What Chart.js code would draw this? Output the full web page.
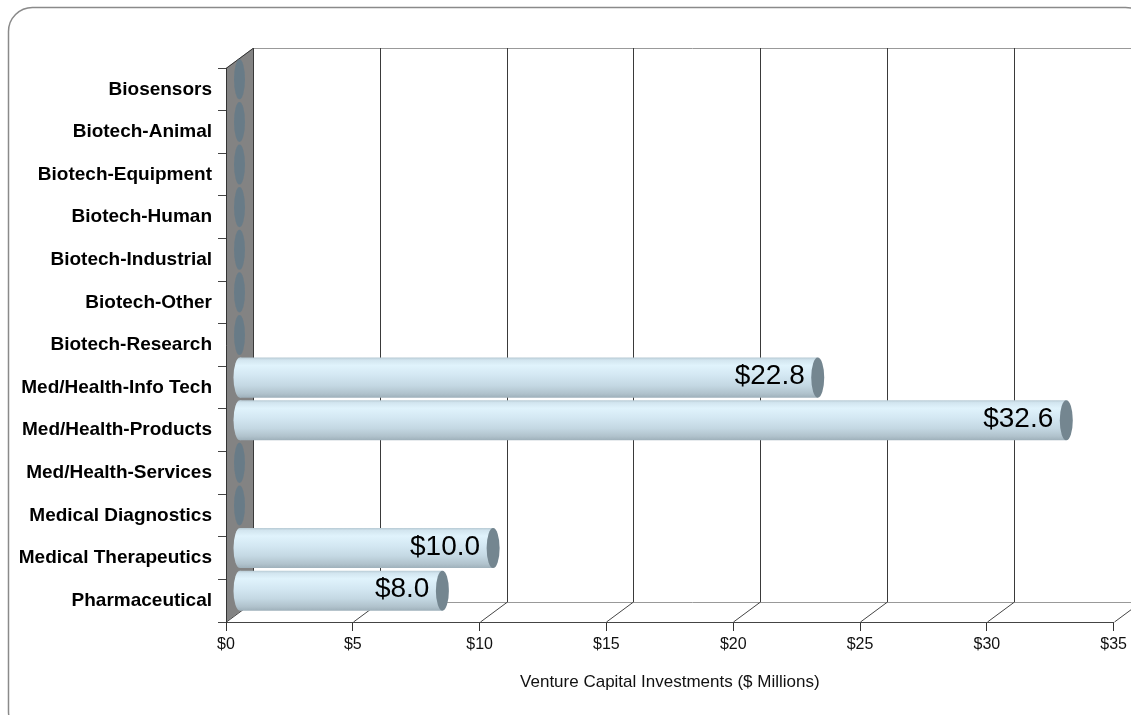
<!DOCTYPE html>
<html>
<head>
<meta charset="utf-8">
<script src="https://cdn.jsdelivr.net/npm/chart.js@4.4.1/dist/chart.umd.min.js"></script>
<style>
    html, body { margin: 0; padding: 0; background: #fff; }
    #wrap { width: 1131px; height: 715px; position: relative; }
</style>
</head>
<body>
<div id="wrap"><canvas id="barChart"></canvas></div>
<script>
const categories = [
    'Biosensors', 'Biotech-Animal', 'Biotech-Equipment', 'Biotech-Human',
    'Biotech-Industrial', 'Biotech-Other', 'Biotech-Research',
    'Med/Health-Info Tech', 'Med/Health-Products', 'Med/Health-Services',
    'Medical Diagnostics', 'Medical Therapeutics', 'Pharmaceutical'
];
const investments = [0, 0, 0, 0, 0, 0, 0, 22.8, 32.6, 0, 0, 10.0, 8.0];
const axisTitle = 'Venture Capital Investments ($ Millions)';
const xMax = 35;
const xStep = 5;

// 3D depth of the plot box (back wall offset from the front plane)
const DEPTH_X = 27;
const DEPTH_Y = -20;
const FONT = '"Liberation Sans", Arial, sans-serif';


function tubeGradient(ctx, cy, h) {
    const g = ctx.createLinearGradient(0, cy - h / 2, 0, cy + h / 2);
    g.addColorStop(0, '#b7cad4');
    g.addColorStop(0.06, '#d2e5ef');
    g.addColorStop(0.2, '#e0f3fc');
    g.addColorStop(0.45, '#d3e7f2');
    g.addColorStop(0.7, '#c4d8e3');
    g.addColorStop(0.9, '#b0c2cc');
    g.addColorStop(1, '#9eb0ba');
    return g;
}


function ellipse(ctx, x, y, rx, ry) {
    ctx.beginPath();
    ctx.ellipse(x, y, rx, ry, 0, 0, Math.PI * 2);
    ctx.fill();
}


// Frame, side wall, back wall gridlines and floor
const backdrop = {
    id: 'backdrop',
    beforeDraw(chart) {
        const { ctx, chartArea: a } = chart;
        const xs = chart.scales.x;
        ctx.save();

        // rounded outer frame
        ctx.strokeStyle = '#8a8a8a';
        ctx.lineWidth = 1.5;
        ctx.beginPath();
        ctx.roundRect(8.5, 7.5, 1141, 728, 24);
        ctx.stroke();

        // grey side wall
        ctx.fillStyle = '#838383';
        ctx.beginPath();
        ctx.moveTo(a.left, a.top);
        ctx.lineTo(a.left + DEPTH_X, a.top + DEPTH_Y);
        ctx.lineTo(a.left + DEPTH_X, a.bottom + DEPTH_Y);
        ctx.lineTo(a.left, a.bottom);
        ctx.closePath();
        ctx.fill();

        ctx.lineWidth = 1;
        // wall top edge
        ctx.strokeStyle = '#333';
        ctx.beginPath();
        ctx.moveTo(a.left, a.top + 0.5);
        ctx.lineTo(a.left + DEPTH_X, a.top + DEPTH_Y + 0.5);
        ctx.stroke();

        // back wall top and floor back edge
        const backRight = xs.getPixelForValue(xMax) + DEPTH_X;
        ctx.strokeStyle = '#999';
        ctx.beginPath();
        ctx.moveTo(a.left + DEPTH_X, a.top + DEPTH_Y + 0.5);
        ctx.lineTo(backRight, a.top + DEPTH_Y + 0.5);
        ctx.moveTo(a.left + DEPTH_X, a.bottom + DEPTH_Y + 0.5);
        ctx.lineTo(backRight, a.bottom + DEPTH_Y + 0.5);
        ctx.stroke();

        // vertical gridlines on the back wall + floor diagonals
        for (const t of xs.ticks) {
            const px = Math.round(xs.getPixelForValue(t.value)) + 0.5;
            const bx = px + DEPTH_X;
            ctx.strokeStyle = '#3a3a3a';
            ctx.beginPath();
            ctx.moveTo(bx, a.top + DEPTH_Y);
            ctx.lineTo(bx, a.bottom + DEPTH_Y);
            ctx.stroke();
            ctx.strokeStyle = '#444';
            ctx.beginPath();
            ctx.moveTo(px, a.bottom);
            ctx.lineTo(bx, a.bottom + DEPTH_Y);
            ctx.stroke();
        }
        ctx.restore();
    }
};


// Draw bars half way into the box, with cylinder caps and value labels
const cylinders = {
    id: 'cylinders',
    beforeDatasetsDraw(chart) {
        chart.ctx.save();
        chart.ctx.translate(DEPTH_X / 2, DEPTH_Y / 2);
    },
    afterDatasetsDraw(chart) {
        const ctx = chart.ctx;
        const meta = chart.getDatasetMeta(0);
        meta.data.forEach((bar, i) => {
            const { x, y, base, height } = bar;
            const ry = height / 2;
            if (investments[i] > 0) {
                ctx.fillStyle = tubeGradient(ctx, y, height);
                ellipse(ctx, base, y, 6.5, ry);
                ctx.fillStyle = '#748690';
                ellipse(ctx, x, y, 6.5, ry);

                ctx.fillStyle = '#000';
                ctx.font = '28px ' + FONT;
                ctx.textAlign = 'right';
                ctx.textBaseline = 'middle';
                ctx.fillText('$' + investments[i].toFixed(1), x - 13, y - 1);
            } else {
                ctx.fillStyle = 'rgba(100, 122, 136, 0.85)';
                ellipse(ctx, base, y, 5.5, ry);
            }
        });
        ctx.restore();
    }
};


const barChart = new Chart(
    document.getElementById('barChart').getContext('2d'),
    {
        type: 'bar',
        data: {
            labels: categories,
            datasets: [{
                data: investments,
                barPercentage: 0.94,
                categoryPercentage: 1,
                borderWidth: 0,
                clip: false,
                backgroundColor: c => {
                    const ys = c.chart.scales.y;
                    if (!ys) return '#d0e4ee';
                    const h = ys.height / categories.length * 0.94;
                    const py = ys.getPixelForValue(c.dataIndex);
                    if (!isFinite(h) || !isFinite(py) || h <= 0) return '#d0e4ee';
                    return tubeGradient(c.chart.ctx, py, h);
                }
            }]
        },
        plugins: [backdrop, cylinders],
        options: {
            indexAxis: 'y',
            responsive: true,
            maintainAspectRatio: false,
            animation: false,
            layout: { padding: { top: 68, right: 15, left: 0, bottom: 0 } },
            plugins: {
                legend: { display: false },
                tooltip: { enabled: false }
            },
            scales: {
                x: {
                    min: 0,
                    max: xMax,
                    ticks: {
                        stepSize: xStep,
                        callback: v => '$' + v,
                        color: '#111',
                        font: { size: 16, family: FONT },
                        padding: 4,
                        maxRotation: 0
                    },
                    grid: { drawOnChartArea: false, tickLength: 9, color: '#333' },
                    border: { display: true, color: '#444' },
                    title: {
                        display: true,
                        text: axisTitle,
                        color: '#111',
                        font: { size: 17, family: FONT },
                        padding: { top: 0, bottom: 22 }
                    },
                    afterFit: s => { s.height = 93; }
                },
                y: {
                    ticks: {
                        color: '#000',
                        font: { size: 19, weight: 'bold', family: FONT },
                        padding: 6
                    },
                    grid: { drawOnChartArea: false, tickLength: 8, color: '#444' },
                    border: { display: true, color: '#333' },
                    afterFit: s => { s.width = 226; }
                }
            }
        }
    }
);
</script>
</body>
</html>
